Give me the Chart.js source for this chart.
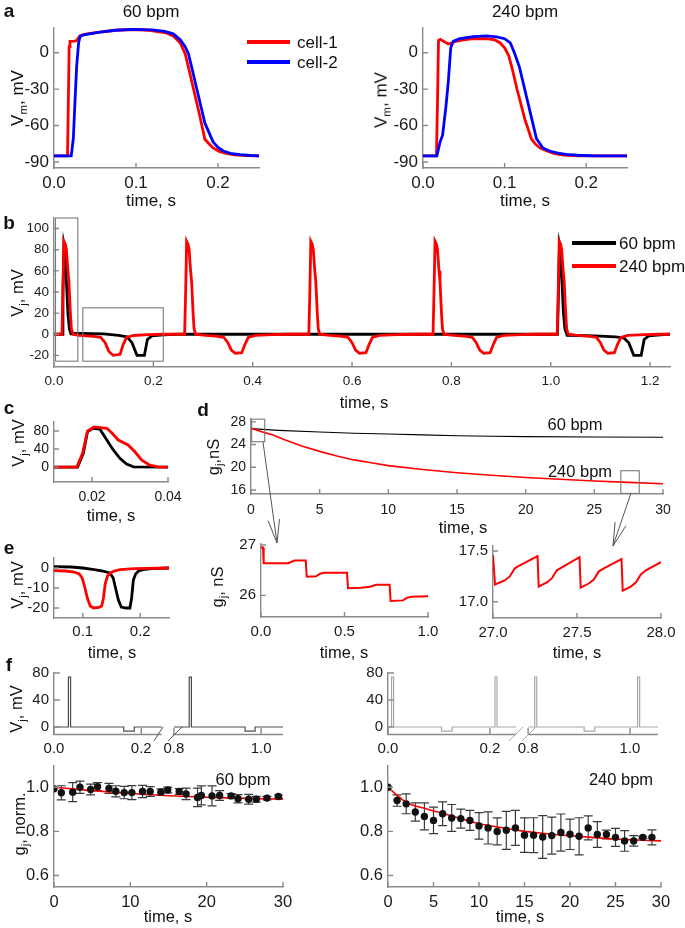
<!DOCTYPE html>
<html lang="en">
<head>
<meta charset="UTF-8">
<title>Junctional voltage and conductance</title>
<script src="https://cdn.jsdelivr.net/npm/chart.js@4.4.1/dist/chart.umd.min.js"></script>
<style>
  body { margin: 0; background: #fff; }
  #fig { position: relative; width: 685px; height: 928px; overflow: hidden;
         font-family: 'Liberation Sans', Arial, sans-serif; color: #111; }
  #fig canvas { position: absolute; pointer-events: none; }
  .lb { position: absolute; white-space: nowrap; font-size: 16.5px; line-height: 1;
        transform: translate(-50%, -50%); }
  .rot { transform: translate(-50%, -50%) rotate(-90deg); }
  .pl { position: absolute; font-weight: bold; font-size: 19px; line-height: 1;
        transform: translate(-50%, -50%); }
  .ll { position: absolute; white-space: nowrap; font-size: 17px; line-height: 1;
        transform: translateY(-50%); }
  .sw { position: absolute; height: 3.5px; }
  sub { font-size: 68%; vertical-align: -0.35em; line-height: 0; }
  svg { position: absolute; left: 0; top: 0; }
</style>
</head>
<body>
<div id="fig"></div>
<script>
// ---------- panel a: action potentials, time (s) / Vm (mV)
const apTime60Cell1 = [0, 0.0165, 0.0175, 0.0185, 0.0195, 0.025, 0.0276, 0.0317, 0.04, 0.056, 0.075, 0.097, 0.115, 0.13, 0.137, 0.146, 0.154, 0.160, 0.165, 0.170, 0.178, 0.184, 0.189, 0.194, 0.202, 0.21, 0.22, 0.235, 0.25];
const apVm60Cell1   = [-85, -85, -40, 5, 9.3, 9.5, 10, 14, 15.5, 17, 18.5, 19.1, 18.5, 17, 16.3, 13.5, 8, -1, -15, -29.5, -52.7, -71.3, -75, -78.5, -81.5, -83, -84.2, -84.8, -85];
const apTime60Cell2 = [0, 0.021, 0.0236, 0.0256, 0.0276, 0.030, 0.0317, 0.035, 0.045, 0.056, 0.075, 0.097, 0.12, 0.135, 0.1455, 0.154, 0.160, 0.164, 0.169, 0.174, 0.184, 0.194, 0.2, 0.2065, 0.215, 0.227, 0.24, 0.25];
const apVm60Cell2   = [-85, -85, -70.5, -40, -11.4, 8, 13.2, 14.5, 15.8, 17, 18.5, 19.2, 18.8, 17.5, 15.5, 10.6, 5, -1, -15, -29.5, -58, -73.5, -78, -81, -83, -84, -84.7, -85];
const apTime240Cell1 = [0, 0.0165, 0.0178, 0.019, 0.0212, 0.025, 0.031, 0.035, 0.0395, 0.05, 0.062, 0.078, 0.088, 0.0946, 0.1, 0.105, 0.11, 0.115, 0.125, 0.133, 0.138, 0.1436, 0.152, 0.16, 0.172, 0.19, 0.25];
const apVm240Cell1   = [-85, -85, -40, 10, 11, 9.5, 7.2, 8, 9.3, 10.5, 11.5, 11.5, 10.5, 8, 4, -2.3, -15, -29.5, -55.3, -71.3, -75.5, -78.5, -81, -83, -84.3, -85, -85];
const apTime240Cell2 = [0, 0.017, 0.021, 0.024, 0.028, 0.031, 0.034, 0.037, 0.045, 0.062, 0.078, 0.09, 0.1, 0.107, 0.112, 0.118, 0.129, 0.139, 0.147, 0.155, 0.164, 0.175, 0.19, 0.21, 0.25];
const apVm240Cell2   = [-85, -85, -73.4, -68, -45, -24, 4, 9.3, 11.5, 13.2, 13.8, 13, 11.5, 8, 0, -11.4, -42.4, -70.8, -78.5, -81, -82.6, -83.8, -84.5, -85, -85];

// ---------- panel b: junctional voltage Vj (mV)
const vjTime60 = [0, 0.0165, 0.018, 0.020, 0.022, 0.025, 0.028, 0.031, 0.034, 0.05, 0.1, 0.13, 0.147, 0.157, 0.167, 0.182, 0.188, 0.197, 0.22, 0.25,
  1.0135, 1.0155, 1.0175, 1.0195, 1.0225, 1.0255, 1.0285, 1.033, 1.06, 1.1, 1.13, 1.147, 1.157, 1.167, 1.182, 1.188, 1.197, 1.22, 1.24];
const vj60 = [0, 0, 40, 85, 80, 50, 20, 5, 0.5, 0.7, 0.3, -1, -2.5, -8, -20, -20, -5, -1.5, -0.5, 0,
  0, 40, 85, 80, 50, 20, 5, -1, -1.2, -1.8, -2.5, -3.5, -8, -20, -20, -5, -1.5, -0.5, 0];
const vjTime240 = [0, 0.016, 0.018, 0.020, 0.023, 0.025, 0.028, 0.030, 0.033, 0.035, 0.038, 0.05, 0.08, 0.094, 0.103, 0.11, 0.119, 0.133, 0.139, 0.146, 0.16, 0.19, 0.22, 0.263,
  0.265, 0.267, 0.270, 0.272, 0.275, 0.277, 0.280, 0.282, 0.285, 0.30, 0.33, 0.342, 0.35, 0.357, 0.365, 0.378, 0.384, 0.391, 0.405, 0.44, 0.47, 0.513,
  0.515, 0.517, 0.520, 0.522, 0.525, 0.527, 0.530, 0.532, 0.535, 0.55, 0.58, 0.592, 0.600, 0.607, 0.615, 0.628, 0.634, 0.641, 0.655, 0.69, 0.72, 0.763,
  0.765, 0.767, 0.770, 0.772, 0.775, 0.777, 0.780, 0.782, 0.785, 0.80, 0.83, 0.842, 0.850, 0.857, 0.865, 0.878, 0.884, 0.891, 0.905, 0.94, 0.97, 1.013,
  1.015, 1.017, 1.020, 1.022, 1.025, 1.027, 1.030, 1.032, 1.035, 1.05, 1.08, 1.092, 1.100, 1.107, 1.115, 1.128, 1.134, 1.141, 1.155, 1.19, 1.22, 1.24];
const vj240 = [0, 0, 40, 88, 85, 80, 60, 50, 20, 5, 0, -1, -2, -3, -8, -16, -20, -19, -10, -3, -1.2, -0.4, 0, 0,
  40, 88, 85, 80, 60, 50, 20, 5, 0, -0.8, -2, -3, -8, -15, -18, -17.5, -10, -3, -1, -0.3, 0, 0,
  40, 88, 85, 80, 60, 50, 20, 5, 0, -0.8, -2, -3, -8, -15, -18, -17.5, -10, -3, -1, -0.3, 0, 0,
  40, 88, 85, 80, 60, 50, 20, 5, 0, -0.8, -2, -3, -8, -15, -18, -17.5, -10, -3, -1, -0.3, 0, 0,
  40, 88, 85, 80, 60, 50, 20, 5, 0, -0.8, -2, -3, -8, -15, -18, -17.5, -10, -3, -1, -0.3, 0, 0];
const vjBoxes = [[0.003, 0.048, -25.5, 110], [0.058, 0.22, -25.5, 25]];

// ---------- panel c: Vj spike
const spikeTime60 = [0.01, 0.0162, 0.0177, 0.0188, 0.0202, 0.0221, 0.0239, 0.0256, 0.0274, 0.0291, 0.0309, 0.04];
const spike60     = [0, 0, 30, 78, 86, 84, 60, 38, 19, 6.7, 0.5, 0];
const spikeTime240 = [0.01, 0.016, 0.0175, 0.0188, 0.0205, 0.0239, 0.0252, 0.0269, 0.0295, 0.0313, 0.0331, 0.0352, 0.0374, 0.04];
const spike240     = [0, 0, 30, 80, 89, 86, 76, 60, 49, 34, 15.6, 4.4, 0.5, 0];

// ---------- panel e: Vj dip
const dipTime60 = [0.05, 0.08, 0.1, 0.12, 0.135, 0.147, 0.153, 0.157, 0.162, 0.167, 0.175, 0.182, 0.185, 0.188, 0.192, 0.197, 0.205, 0.22, 0.25];
const dip60     = [0.7, 0.5, 0, -0.8, -1.5, -2.5, -5, -10, -16, -19.5, -20, -20, -15, -6, -3, -1.5, -0.8, -0.3, 0];
const dipTime240 = [0.05, 0.07, 0.085, 0.094, 0.099, 0.103, 0.108, 0.113, 0.119, 0.128, 0.133, 0.136, 0.139, 0.143, 0.148, 0.155, 0.165, 0.19, 0.25];
const dip240     = [-1.3, -1.5, -2, -3, -5, -9, -15, -19, -20, -19.7, -19, -15, -8, -4, -2.5, -1.5, -0.8, -0.3, 0];

// ---------- panel d: gj (nS) over 30 s
const gjTime60 = [0, 2, 5, 7.5, 10, 12.5, 15, 17.5, 20, 25, 30];
const gj60     = [26.8, 26.5, 26.2, 26.0, 25.85, 25.7, 25.55, 25.47, 25.4, 25.33, 25.3];
const gjTime240 = [0, 1, 1.6, 2.5, 3.75, 5, 6.25, 7.5, 8.75, 10, 12.5, 15, 17.5, 20, 22.5, 25, 27.5, 30];
const gj240     = [26.9, 26.1, 25.7, 24.8, 23.7, 22.8, 22.0, 21.3, 20.8, 20.3, 19.6, 19.05, 18.6, 18.2, 17.9, 17.6, 17.35, 17.1];
const gjBoxes = [[0.05, 1.0, 24.5, 28.47], [26.93, 28.27, 15.4, 19.4]];
const zoomTimeStart = [0, 0.012, 0.016, 0.163, 0.2, 0.268, 0.274, 0.33, 0.353, 0.38, 0.515, 0.521, 0.6, 0.653, 0.69, 0.77, 0.776, 0.85, 0.872, 0.9, 1.0];
const zoomGjStart   = [26.95, 26.95, 26.64, 26.64, 26.69, 26.69, 26.37, 26.38, 26.43, 26.45, 26.45, 26.14, 26.15, 26.17, 26.21, 26.21, 25.89, 25.9, 25.95, 25.97, 25.98];
const zoomTimeEnd = [27.0, 27.012, 27.07, 27.10, 27.13, 27.16, 27.265, 27.272, 27.32, 27.35, 27.38, 27.41, 27.515, 27.522, 27.57, 27.60, 27.63, 27.66, 27.765, 27.772, 27.82, 27.85, 27.88, 27.91, 28.0];
const zoomGjEnd   = [17.46, 17.17, 17.21, 17.25, 17.33, 17.36, 17.45, 17.15, 17.19, 17.23, 17.31, 17.34, 17.44, 17.14, 17.18, 17.22, 17.30, 17.33, 17.42, 17.11, 17.15, 17.19, 17.27, 17.31, 17.39];

// ---------- panel f: protocols (real time, s) and normalised gj
const protoTime60a = [0, 0.033, 0.033, 0.038, 0.038, 0.160, 0.160, 0.184, 0.184, 0.247];
const protoV60a    = [0, 0, 74, 74, 0, 0, -6, -6, 0, 0];
const protoTime60b = [0.80, 0.835, 0.835, 0.840, 0.840, 0.963, 0.963, 0.986, 0.986, 1.05];
const protoV60b    = [0, 0, 74, 74, 0, 0, -6, -6, 0, 0];
const protoTime240a = [0, 0.007, 0.007, 0.011, 0.011, 0.105, 0.105, 0.126, 0.126, 0.210, 0.210, 0.214, 0.214, 0.251];
const protoV240a    = [0, 0, 74, 74, 0, 0, -6, -6, 0, 0, 74, 74, 0, 0];
const protoTime240b = [0.80, 0.813, 0.813, 0.817, 0.817, 0.91, 0.91, 0.931, 0.931, 1.015, 1.015, 1.019, 1.019, 1.055];
const protoV240b    = [0, 0, 74, 74, 0, 0, -6, -6, 0, 0, 74, 74, 0, 0];
const protoTicks = [0, 0.2, 0.8, 1.0];

const normTime60 = [0, 0.96, 2.45, 3.4, 4.8, 5.7, 7.2, 8.1, 9.2, 10.2, 11.6, 12.6, 14.0, 14.9, 16.4, 17.3, 18.8, 19.3, 20.7, 21.7, 23.2, 24.1, 25.5, 26.5, 27.9, 29.4];
const norm60     = [0.993, 0.975, 0.978, 1.0, 0.99, 1.003, 0.995, 0.982, 0.976, 0.976, 0.981, 0.981, 0.978, 0.988, 0.981, 0.97, 0.954, 0.963, 0.961, 0.963, 0.961, 0.948, 0.946, 0.946, 0.951, 0.958];
const normErr60  = [0, 0.032, 0.043, 0.028, 0.024, 0.018, 0.023, 0.025, 0.028, 0.032, 0.028, 0.022, 0.015, 0.013, 0.013, 0.026, 0.042, 0.043, 0.045, 0.022, 0.010, 0.019, 0.022, 0.013, 0.008, 0.007];
const fitTime60 = [0, 5, 10, 15, 20, 25, 30];
const fit60     = [1.0, 0.985, 0.972, 0.962, 0.955, 0.95, 0.946];
const normTime240 = [0, 1, 2, 3, 4, 5, 6, 7, 8, 9, 10, 11, 12, 13, 14, 15, 16, 17, 18, 19, 20, 21, 22, 23, 24, 25, 26, 27, 28, 29];
const norm240     = [1.0, 0.94, 0.925, 0.888, 0.868, 0.85, 0.88, 0.861, 0.858, 0.85, 0.825, 0.816, 0.80, 0.805, 0.816, 0.783, 0.783, 0.775, 0.781, 0.795, 0.787, 0.778, 0.816, 0.786, 0.786, 0.773, 0.757, 0.757, 0.773, 0.773];
const normErr240  = [0, 0.026, 0.045, 0.041, 0.061, 0.060, 0.054, 0.061, 0.043, 0.045, 0.060, 0.073, 0.061, 0.086, 0.079, 0.078, 0.079, 0.097, 0.084, 0.084, 0.069, 0.084, 0.054, 0.058, 0.020, 0.041, 0.047, 0.024, 0.005, 0.034];
const fitTime240 = [0, 1, 2, 3, 4, 5, 6, 8, 10, 12, 15, 18, 20, 22, 25, 28, 30];
const fit240     = [1.0, 0.963, 0.93, 0.915, 0.905, 0.893, 0.882, 0.857, 0.835, 0.82, 0.80, 0.787, 0.78, 0.774, 0.765, 0.76, 0.757];

// ---------- helpers
Chart.defaults.font.family = "'Liberation Sans', Arial, sans-serif";
Chart.defaults.color = '#1a1a1a';

const fig = document.getElementById('fig');
const PAD = {l: 60, t: 14, r: 32, b: 34};
const RED = '#ff0000', BLUE = '#0000ff', BLACK = '#000000';

const f0 = v => String(Math.round(v));
const f1 = v => v.toFixed(1);
const f2 = v => v.toFixed(2);

// broken time axis in panel f: 0-0.25 s, then 0.8 s onwards
const toU = t => (t < 0.5 ? t : t - 0.525);
const fromU = u => (u < 0.26 ? u : u + 0.525);

function pts(ts, vs, map) {
  return ts.map((t, i) => ({x: map ? map(t) : t, y: vs[i]}));
}

function line(ts, vs, color, width, map) {
  return {data: pts(ts, vs, map), borderColor: color, borderWidth: width, pointRadius: 0,
          showLine: true, tension: 0, fill: false};
}

function makeAxis(min, max, tickVals, fmt, size, pad) {
  return {
    type: 'linear', min: min, max: max,
    grid: {display: false, drawTicks: false},
    border: {display: true, color: '#8a8a8a', width: 1.4},
    ticks: {autoSkip: false, maxRotation: 0, padding: pad, font: {size: size}, color: '#1a1a1a', callback: fmt},
    afterBuildTicks: s => { s.ticks = tickVals.map(v => ({value: v})); }
  };
}

function figPlugin(extra) {
  return {
    id: 'figExtra',
    beforeDatasetsDraw(chart) {
      const ctx = chart.ctx, xS = chart.scales.x, yS = chart.scales.y;
      chart.data.datasets.forEach(ds => {
        if (!ds.errors) return;
        ctx.save();
        ctx.strokeStyle = '#3a3a3a';
        ctx.lineWidth = 1.2;
        ctx.beginPath();
        ds.data.forEach((p, i) => {
          const e = ds.errors[i];
          if (!e) return;
          const px = xS.getPixelForValue(p.x);
          const y1 = yS.getPixelForValue(p.y + e), y2 = yS.getPixelForValue(p.y - e);
          ctx.moveTo(px, y1); ctx.lineTo(px, y2);
          ctx.moveTo(px - 4.5, y1); ctx.lineTo(px + 4.5, y1);
          ctx.moveTo(px - 4.5, y2); ctx.lineTo(px + 4.5, y2);
        });
        ctx.stroke();
        ctx.restore();
      });
    },
    afterDraw(chart) {
      const ctx = chart.ctx, xS = chart.scales.x, yS = chart.scales.y, a = chart.chartArea;
      const len = extra.tickLen || 5;
      ctx.save();
      ctx.strokeStyle = '#8a8a8a';
      ctx.lineWidth = 1.4;
      ctx.beginPath();
      xS.ticks.forEach(t => {
        const p = xS.getPixelForValue(t.value);
        ctx.moveTo(p, a.bottom); ctx.lineTo(p, a.bottom - len);
      });
      yS.ticks.forEach(t => {
        const p = yS.getPixelForValue(t.value);
        ctx.moveTo(a.left, p); ctx.lineTo(a.left + len, p);
      });
      (extra.segments || []).forEach(([u0, u1]) => {
        ctx.moveTo(xS.getPixelForValue(u0), a.bottom + 0.5);
        ctx.lineTo(xS.getPixelForValue(u1), a.bottom + 0.5);
      });
      ctx.stroke();
      if (extra.rects) {
        ctx.strokeStyle = '#7a7a7a';
        ctx.lineWidth = 1.1;
        extra.rects.forEach(([x0, x1, y0, y1]) => {
          const px0 = xS.getPixelForValue(x0), px1 = xS.getPixelForValue(x1);
          const py0 = yS.getPixelForValue(y1), py1 = yS.getPixelForValue(y0);
          ctx.strokeRect(px0, py0, px1 - px0, py1 - py0);
        });
      }
      ctx.restore();
    }
  };
}

function makeChart(area, xs, ys, datasets, extra) {
  const [L, T, R, B] = area;
  const W = R - L + PAD.l + PAD.r, H = B - T + PAD.t + PAD.b;
  const cv = document.createElement('canvas');
  cv.width = W; cv.height = H;
  cv.style.left = (L - PAD.l) + 'px';
  cv.style.top = (T - PAD.t) + 'px';
  fig.appendChild(cv);
  xs.afterFit = s => { s.height = PAD.b; };
  ys.afterFit = s => { s.width = PAD.l; };
  return new Chart(cv, {
    type: 'scatter',
    data: {datasets: datasets},
    options: {
      responsive: false, animation: false, events: [], devicePixelRatio: 1,
      layout: {padding: {left: 0, top: PAD.t, right: PAD.r, bottom: 0}},
      scales: {x: xs, y: ys},
      plugins: {legend: {display: false}, tooltip: {enabled: false}}
    },
    plugins: [figPlugin(extra || {})]
  });
}

function text(html, x, y, cls) {
  const d = document.createElement('div');
  d.className = cls || 'lb';
  d.innerHTML = html;
  d.style.left = x + 'px';
  d.style.top = y + 'px';
  fig.appendChild(d);
  return d;
}

function swatch(x0, x1, y, color) {
  const d = document.createElement('div');
  d.className = 'sw';
  d.style.cssText = `left:${x0}px;top:${y - 1.75}px;width:${x1 - x0}px;background:${color}`;
  fig.appendChild(d);
}

// ---------- panel a
const apX = [0, 0.1, 0.2], apY = [-90, -60, -30, 0];
makeChart([54, 26, 259, 168], makeAxis(0, 0.25, apX, f1, 17, 5), makeAxis(-95, 21, apY, f0, 17, 5), [
  line(apTime60Cell2, apVm60Cell2, BLUE, 2.8),
  line(apTime60Cell1, apVm60Cell1, RED, 2.8)
]);
makeChart([423, 26, 627, 168], makeAxis(0, 0.25, apX, f1, 17, 5), makeAxis(-95, 21, apY, f0, 17, 5), [
  line(apTime240Cell2, apVm240Cell2, BLUE, 2.8),
  line(apTime240Cell1, apVm240Cell1, RED, 2.8)
]);

// ---------- panel b
makeChart([54, 218, 670, 367],
  makeAxis(0, 1.24, [0, 0.2, 0.4, 0.6, 0.8, 1.0, 1.2], f1, 13.5, 6.6),
  makeAxis(-31, 110, [-20, 0, 20, 40, 60, 80, 100], f0, 13.5, 5), [
  line(vjTime240, vj240, RED, 2.8),
  line(vjTime60, vj60, BLACK, 2.8)
], {rects: vjBoxes});

// ---------- panel c
makeChart([54, 422, 168, 482], makeAxis(0.01, 0.04, [0.02, 0.04], f2, 14, 6.6), makeAxis(-33, 100, [0, 40, 80], f0, 14, 5), [
  line(spikeTime240, spike240, RED, 2.8),
  line(spikeTime60, spike60, BLACK, 2.8)
]);

// ---------- panel d
makeChart([251, 419, 663, 494], makeAxis(0, 30, [0, 5, 10, 15, 20, 25, 30], f0, 14, 8), makeAxis(15.3, 28.5, [16, 20, 24, 28], f0, 14, 5), [
  line(gjTime240, gj240, RED, 1.6),
  line(gjTime60, gj60, BLACK, 1.1)
], {rects: gjBoxes});
makeChart([261, 544, 428, 617], makeAxis(0, 1, [0, 0.5, 1.0], f1, 15, 5.7), makeAxis(25.57, 27.02, [26, 27], f0, 15, 5), [
  line(zoomTimeStart, zoomGjStart, RED, 2)
]);
makeChart([493, 546, 661, 618], makeAxis(27, 28, [27, 27.5, 28], f1, 15, 5.7), makeAxis(16.84, 17.55, [17, 17.5], f1, 15, 5), [
  line(zoomTimeEnd, zoomGjEnd, RED, 2)
]);

// ---------- panel e
makeChart([54, 558, 169, 618], makeAxis(0.05, 0.25, [0.1, 0.2], f1, 15, 4.7), makeAxis(-25, 5, [-20, -10, 0], f0, 15, 5), [
  line(dipTime240, dip240, RED, 2.8),
  line(dipTime60, dip60, BLACK, 2.8)
]);

// ---------- panel f, protocols
function protoX(max) {
  const ax = makeAxis(0, max, protoTicks.map(toU), u => fromU(u).toFixed(1), 15, 6);
  ax.border = {display: false};
  return ax;
}
makeChart([54, 673, 283, 734], protoX(0.525), makeAxis(-10.4, 80, [0, 40, 80], f0, 15, 5), [
  line(protoTime60a, protoV60a, '#4a4a4a', 1.2, toU),
  line(protoTime60b, protoV60b, '#4a4a4a', 1.2, toU)
], {segments: [[0, 0.247], [0.272, 0.525]], tickLen: 6});
makeChart([388, 673, 658, 734], protoX(0.53), makeAxis(-10.4, 80, [0, 40, 80], f0, 15, 5), [
  line(protoTime240a, protoV240a, '#a8a8a8', 1.2, toU),
  line(protoTime240b, protoV240b, '#a8a8a8', 1.2, toU)
], {segments: [[0, 0.251], [0.275, 0.53]], tickLen: 6});

// ---------- panel f, normalised conductance
function normSet(ts, vs, errs) {
  return {data: pts(ts, vs), errors: errs, showLine: false, pointRadius: 3.7,
          backgroundColor: '#111', borderWidth: 0};
}
makeChart([54, 765, 283, 887], makeAxis(0, 30, [0, 10, 20, 30], f0, 16.5, 5.8), makeAxis(0.548, 1.097, [0.6, 0.8, 1.0], f1, 16.5, 5), [
  normSet(normTime60, norm60, normErr60),
  line(fitTime60, fit60, RED, 1.6)
]);
makeChart([388, 765, 661, 887], makeAxis(0, 30, [0, 5, 10, 15, 20, 25, 30], f0, 16.5, 5.8), makeAxis(0.548, 1.097, [0.6, 0.8, 1.0], f1, 16.5, 5), [
  normSet(normTime240, norm240, normErr240),
  line(fitTime240, fit240, RED, 1.6)
]);

// ---------- text
const VM = 'V<sub>m</sub>, mV', VJ = 'V<sub>j</sub>, mV', TS = 'time, s';
text('a', 9, 10, 'pl');
text('60 bpm', 151, 11).style.fontSize = '17px';
text('240 bpm', 525, 11).style.fontSize = '17px';
text(VM, 17, 98, 'lb rot').style.fontSize = '17px';
text(VM, 381, 100, 'lb rot').style.fontSize = '17px';
text(TS, 151, 200).style.fontSize = '17px';
text(TS, 525, 200).style.fontSize = '17px';
swatch(247, 290, 42, RED);
swatch(247, 290, 62, BLUE);
text('cell-1', 297, 42, 'll');
text('cell-2', 297, 62, 'll');

text('b', 9, 222, 'pl');
text(VJ, 17, 293, 'lb rot');
text(TS, 364, 402);
swatch(572, 616, 243, BLACK);
swatch(572, 616, 266, RED);
text('60 bpm', 619, 243, 'll');
text('240 bpm', 619, 266, 'll');

text('c', 9, 407, 'pl');
text(VJ, 18, 443, 'lb rot');
text(TS, 111, 515);

text('d', 203, 409, 'pl');
text('g<sub>j</sub>,nS', 213, 457, 'lb rot');
text(TS, 463, 527);
text('60 bpm', 575, 424);
text('240 bpm', 580, 471);
text('g<sub>j</sub>, nS', 217, 587, 'lb rot');
text(TS, 344, 652);
text(TS, 577, 652);

text('e', 9, 547, 'pl');
text(VJ, 17, 585, 'lb rot');
text(TS, 112, 652);

text('f', 9, 664, 'pl');
text(VJ, 16, 709, 'lb rot');
text('g<sub>j</sub>, norm.', 19, 824, 'lb rot');
text('60 bpm', 243, 779);
text('240 bpm', 621, 779);
text(TS, 168, 916);
text(TS, 520, 916);

// ---------- arrows and axis break marks
function arrow(x1, y1, x2, y2) {
  const ang = Math.atan2(y2 - y1, x2 - x1), L = 24, h = 0.24;
  const p = s => `${(x2 - L * Math.cos(ang + s)).toFixed(1)},${(y2 - L * Math.sin(ang + s)).toFixed(1)}`;
  return `<line x1="${x1}" y1="${y1}" x2="${x2}" y2="${y2}"/>` +
         `<polyline fill="none" points="${p(h)} ${x2},${y2} ${p(-h)}"/>`;
}
const svg = `<svg width="685" height="928" xmlns="http://www.w3.org/2000/svg">
  <g stroke="#555" stroke-width="1">
    ${arrow(263, 442, 277, 543)}
    ${arrow(631, 493, 613, 546)}
  </g>
  <g stroke="#555" stroke-width="1">
    <line x1="154" y1="741" x2="163" y2="727"/>
    <line x1="168" y1="741" x2="182" y2="727"/>
  </g>
  <g stroke="#aaa" stroke-width="1">
    <line x1="509" y1="741" x2="523" y2="727"/>
    <line x1="522" y1="741" x2="536" y2="727"/>
  </g>
</svg>`;
fig.insertAdjacentHTML('beforeend', svg);
</script>
</body>
</html>
